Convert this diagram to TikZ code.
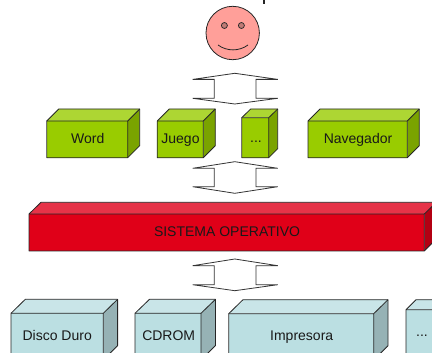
\documentclass[tikz,border=0pt]{standalone}
\usepackage{fontspec}
\setmainfont{Liberation Sans}
\definecolor{gF}{HTML}{99CC00}\definecolor{gT}{HTML}{ADD633}\definecolor{gS}{HTML}{7AA300}
\definecolor{rF}{HTML}{E00018}\definecolor{rT}{HTML}{E63348}\definecolor{rS}{HTML}{B30013}
\definecolor{bF}{HTML}{BBDFE2}\definecolor{bT}{HTML}{C9E5E8}\definecolor{bS}{HTML}{96B2B5}
\definecolor{ink}{HTML}{262626}
\definecolor{faceC}{HTML}{FF9F99}
\definecolor{eyeC}{HTML}{C07A75}
\tikzset{
  edge/.style={draw=ink,line width=0.8pt,line join=round},
  label/.style={font=\fontsize{14}{16}\selectfont,text=black!90,inner sep=0pt,anchor=base},
  flow/.style={draw=black!80,line width=0.8pt,fill=white,line join=miter},
  eyeball/.style={circle,draw=ink,line width=0.7pt,fill=eyeC,minimum size=6pt,inner sep=0pt},
}
% \boxthree{x1}{x2}{ytop-back}{yfront}{ybottom}{depth}{colour prefix}
\newcommand{\boxthree}[7]{%
  \fill[#7T] (#1,#4) -- (#1+#6,#3) -- (#2+#6,#3) -- (#2,#4) -- cycle;
  \fill[#7S] (#2,#4) -- (#2+#6,#3) -- (#2+#6,#5-#6*1) -- (#2,#5) -- cycle;
  \fill[#7F] (#1,#4) rectangle (#2,#5);
  \draw[edge] (#1,#4) -- (#1+#6,#3) -- (#2+#6,#3) -- (#2+#6,#5-#6*1) -- (#2,#5) -- (#1,#5) -- cycle;
  \draw[edge] (#1,#4) -- (#2,#4) -- (#2,#5) (#2,#4) -- (#2+#6,#3);
}
% \updown{y top tip}{y top}{y bottom}{y bottom tip}
\newcommand{\updown}[4]{%
  \draw[flow] (192.7,#2) -- (234.8,#1) -- (277.8,#2) -- (256,#2) -- (256,#3) -- (277.8,#3) -- (234.8,#4) -- (192.7,#3) -- (214.2,#3) -- (214.2,#2) -- cycle;
}
\begin{document}
\begin{tikzpicture}[x=1pt,y=-1pt]
\useasboundingbox (0,0) rectangle (432,353);
\clip (0,0) rectangle (432,353);
% clipped fragment at the top edge
\draw[line width=1.6pt,black!85] (264,-1) -- (264,4);
% face
\node[circle,draw=ink,line width=0.8pt,fill=faceC,minimum size=53.4pt,inner sep=0pt] (face) at (232.7,33) {};
\node[eyeball] (eyeL) at (224.4,25.5) {};
\node[eyeball] (eyeR) at (241.4,25.5) {};
\draw[ink,line width=0.8pt] (218,45) .. controls (227,51.5) and (239,51.5) .. (248,45);
% arrows
\updown{73.3}{79.4}{98.3}{104}
\updown{161.7}{168.3}{186.7}{193.3}
\updown{259}{265.7}{284.7}{290.7}
% applications
\boxthree{46.7}{127.7}{109}{121}{157.7}{12}{g}
\node[label] (word) at (87.7,144) {Word};
\boxthree{157.3}{203.3}{109}{121}{157.7}{12}{g}
\node[label] (juego) at (180.5,144) {Juego};
\boxthree{241.7}{268.7}{109}{117.7}{157.7}{9}{g}
\node[label] (dots) at (256,142.5) {...};
\boxthree{308}{407.3}{109}{121}{157.7}{12}{g}
\node[label] (nav) at (358,144) {Navegador};
% system
\boxthree{29}{424.3}{202.3}{214}{251}{12}{r}
\node[label] (so) at (227,236.7) {SISTEMA OPERATIVO};
% devices
\boxthree{11}{103.3}{299.3}{313.3}{360}{14.3}{b}
\node[label] (disco) at (57.2,340) {Disco Duro};
\boxthree{135}{201}{299.3}{313.3}{360}{14.5}{b}
\node[label] (cd) at (168.7,340) {CDROM};
\boxthree{228.7}{373.7}{299.7}{313.7}{360}{14.3}{b}
\node[label] (imp) at (301.7,340) {Impresora};
\boxthree{406}{438}{299.7}{309.7}{360}{10}{b}
\node[label] (more) at (422,336.5) {...};
\end{tikzpicture}
\end{document}
